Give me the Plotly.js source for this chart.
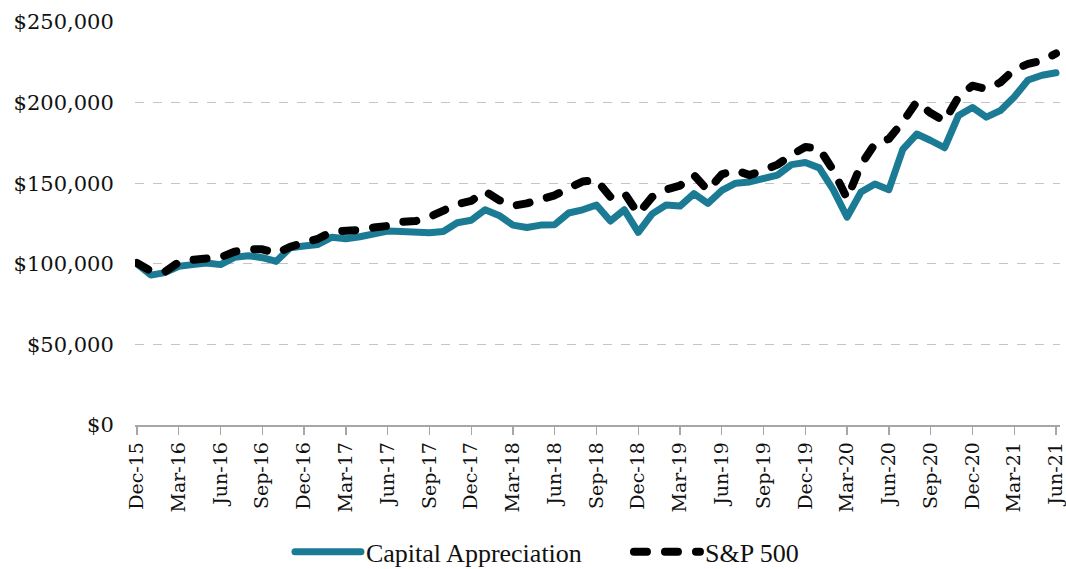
<!DOCTYPE html>
<html>
<head>
<meta charset="utf-8">
<script src="https://cdn.plot.ly/plotly-3.0.1.min.js"></script>
<style>
html,body{margin:0;padding:0;background:#fff;overflow:hidden;}
#chart{width:1066px;height:569px;}
path.js-line{stroke-linecap:round;stroke-linejoin:round;}
</style>
</head>
<body>
<div id="chart"></div>
<script>
const months = ["Dec-15","Jan-16","Feb-16","Mar-16","Apr-16","May-16","Jun-16","Jul-16","Aug-16","Sep-16","Oct-16","Nov-16",
"Dec-16","Jan-17","Feb-17","Mar-17","Apr-17","May-17","Jun-17","Jul-17","Aug-17","Sep-17","Oct-17","Nov-17",
"Dec-17","Jan-18","Feb-18","Mar-18","Apr-18","May-18","Jun-18","Jul-18","Aug-18","Sep-18","Oct-18","Nov-18",
"Dec-18","Jan-19","Feb-19","Mar-19","Apr-19","May-19","Jun-19","Jul-19","Aug-19","Sep-19","Oct-19","Nov-19",
"Dec-19","Jan-20","Feb-20","Mar-20","Apr-20","May-20","Jun-20","Jul-20","Aug-20","Sep-20","Oct-20","Nov-20",
"Dec-20","Jan-21","Feb-21","Mar-21","Apr-21","May-21","Jun-21"];

const capitalAppreciation = [100000,93000,94500,98500,99500,100500,99500,104000,105000,103800,101500,110000,
111000,112000,116500,115500,116800,118000,120300,120000,119200,119300,120000,125500,
127000,133500,130000,124000,122500,124000,124300,131500,133500,136500,126500,133500,
119500,131000,136500,135800,143500,137500,145500,150000,150800,152500,155000,161500,
162800,159500,146000,129000,144500,149500,146000,171000,180500,176500,172000,192000,
197000,191000,195000,203500,214000,217000,218500];

const sp500 = [100500,95500,95000,101000,102500,103500,104000,107500,109000,109000,106500,110500,
113000,115500,120000,120000,121000,122500,123500,126000,126500,129000,132500,137000,
139000,145000,139500,136000,137500,140500,142500,147000,151000,152000,141500,144000,
131000,141500,146000,148500,155000,145500,155500,158000,155000,158000,161500,167500,
172500,171500,158000,140500,161500,174500,177500,188000,200500,193500,188500,203500,
210500,208500,212500,220500,224000,226000,230500];

const tickLabels = months.filter((m, i) => i % 3 === 0);

const traces = [
  {x: months, y: capitalAppreciation, name: "Capital Appreciation", type: "scatter", mode: "lines",
   line: {color: "#1b7b94", width: 7}},
  {x: months, y: sp500, name: "S&P 500", type: "scatter", mode: "lines",
   line: {color: "#000000", width: 8, dash: "13px,18px"}}
];

const layout = {
  width: 1066, height: 569,
  margin: {l: 135, r: 6, t: 22, b: 144, pad: 0},
  paper_bgcolor: "#ffffff", plot_bgcolor: "#ffffff",
  showlegend: true,
  xaxis: {
    type: "category", range: [-0.144, 66.29],
    tickmode: "array", tickvals: tickLabels, ticktext: tickLabels,
    tickangle: -90, ticks: "outside", ticklen: 8, tickcolor: "#a6a6a6", tickwidth: 1.3,
    showline: true, linecolor: "#a6a6a6", linewidth: 1.5,
    showgrid: false, zeroline: false, automargin: false,
    tickfont: {family: "DejaVu Serif", size: 19, color: "#111"}
  },
  yaxis: {
    range: [0, 250000], tickmode: "linear", tick0: 0, dtick: 50000,
    tickprefix: "$", tickformat: ",d",
    showgrid: true, gridcolor: "#c4c4c4", gridwidth: 1, griddash: "dash",
    zeroline: false, showline: false, automargin: false,
    ticks: "outside", ticklen: 16, tickcolor: "rgba(0,0,0,0)",
    tickfont: {family: "DejaVu Serif", size: 21, color: "#111"}
  },
  legend: {
    orientation: "h", xref: "container", yref: "container",
    x: 0.272, xanchor: "left", y: 0.03, yanchor: "middle",
    font: {family: "Liberation Serif", size: 26, color: "#111"},
    itemwidth: 66, entrywidth: 258, entrywidthmode: "pixels",
    bgcolor: "rgba(0,0,0,0)"
  }
};

Plotly.newPlot("chart", traces, layout, {displayModeBar: false, staticPlot: true});
</script>
</body>
</html>
